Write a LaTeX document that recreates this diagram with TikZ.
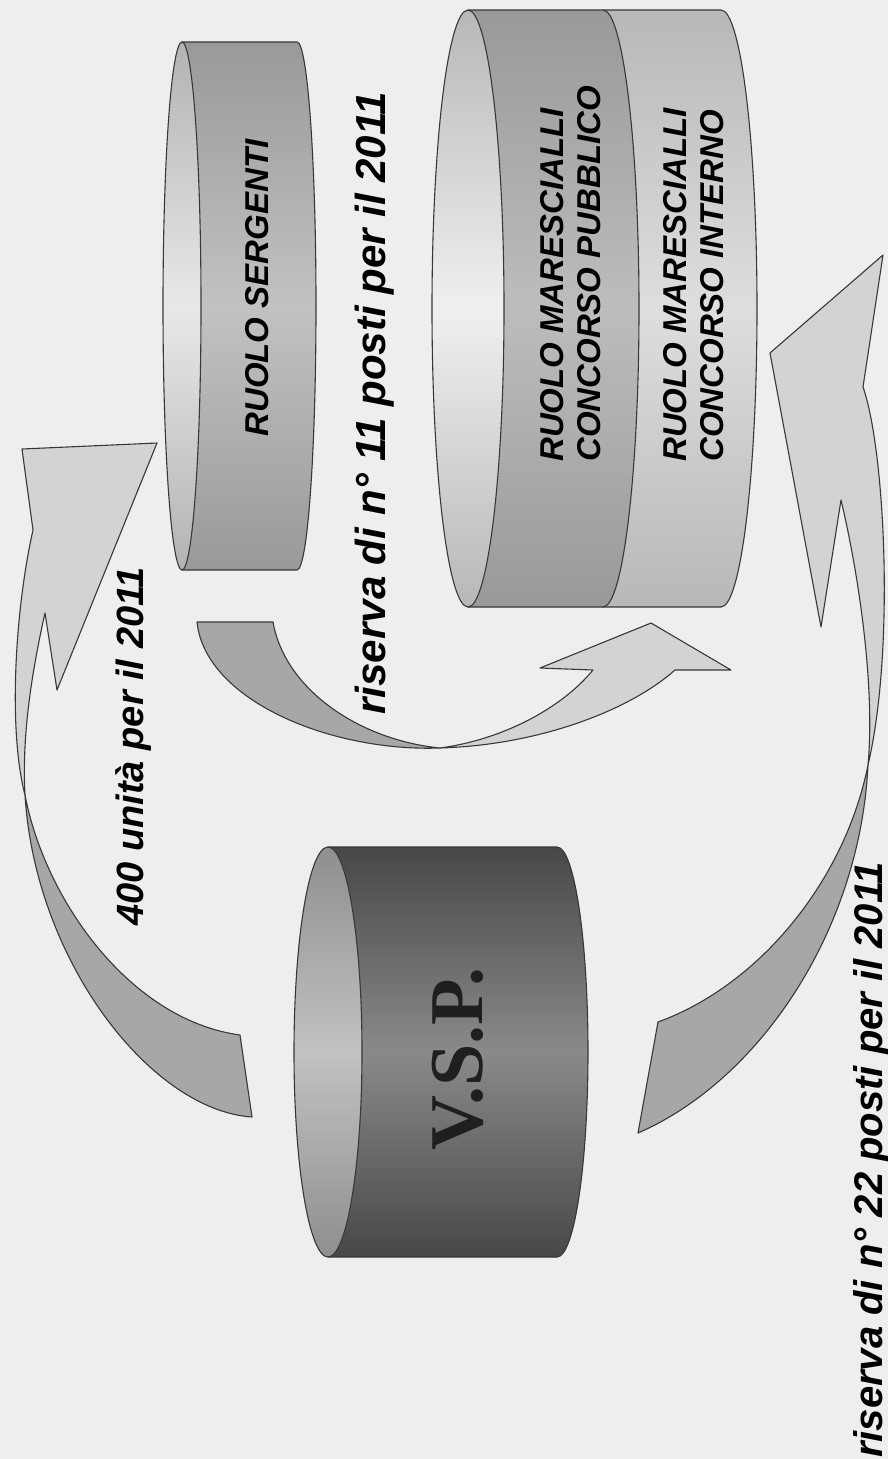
\documentclass[tikz,border=0pt]{standalone}
\usepackage{fontspec}
\setmainfont{Liberation Sans}
\newfontfamily\vspfont{Liberation Serif}
\definecolor{paper}{HTML}{EEEEEE}
\definecolor{inkline}{HTML}{383838}
\definecolor{ribbonfront}{HTML}{D3D3D3}
\definecolor{ribbonback}{HTML}{A7A7A7}
% body of a lying drum: #1 style, #2 x of front face, #3 x of back end, #4 top, #5 bottom, #6 x radius
\newcommand{\drum}[6]{
    \draw[#1] (#2, #4) -- (#3, #4)
        arc[start angle=-90, end angle=90, x radius=#6, y radius={(#5-#4)/2}]
        -- (#2, #5) -- cycle;
}
% front face of a lying drum: #1 style, #2 x, #3 y, #4 x radius, #5 y radius
\newcommand{\drumface}[5]{
    \draw[#1] (#2, #3) ellipse [x radius=#4, y radius=#5];
}
\tikzset{
    outline/.style={draw=inkline, line width=1.1pt, line join=round},
    sergbody/.style={outline, top color=black!40, bottom color=black!40, middle color=black!24},
    sergface/.style={outline, top color=black!30, bottom color=black!30, middle color=black!9},
    pubbody/.style={outline, top color=black!40, bottom color=black!40, middle color=black!26},
    intbody/.style={outline, top color=black!28, bottom color=black!28, middle color=black!13},
    marface/.style={outline, top color=black!28, bottom color=black!28, middle color=black!6},
    vspbody/.style={outline, top color=black!72, bottom color=black!72, middle color=black!46},
    vspface/.style={outline, top color=black!44, bottom color=black!44, middle color=black!24},
    arrowfront/.style={outline, fill=ribbonfront},
    arrowback/.style={outline, fill=ribbonback},
    drumlabel/.style={rotate=90, inner sep=0pt, align=left,
        font=\fontsize{33}{37}\selectfont\bfseries\itshape},
    flowlabel/.style={rotate=90, inner sep=0pt,
        font=\fontsize{40}{48}\selectfont\bfseries\itshape},
}
\begin{document}
\begin{tikzpicture}[x=1pt, y=1pt, yscale=-1]
    \fill[paper] (0, 0) rectangle (888, 1459);
    \useasboundingbox (0, 0) rectangle (888, 1459);

    % ruolo sergenti
    \drum{sergbody}{182}{297}{42}{570}{19}
    \drumface{sergface}{182}{306}{19}{264}

    % ruolo marescialli
    \drum{intbody}{603}{721}{10}{607}{36}
    \drum{pubbody}{468}{603}{10}{607}{36}
    \drumface{marface}{468}{308.5}{36}{298.5}

    % v.s.p.
    \drum{vspbody}{328}{557}{847}{1257}{31}
    \drumface{vspface}{328}{1052}{34}{205}

    % v.s.p. -> sergenti
    \coordinate (la1) at (22, 449);
    \coordinate (la2) at (157, 443);
    \coordinate (la3) at (57, 690);
    \coordinate (lo) at (33, 530);
    \coordinate (ln) at (45, 613);
    \coordinate (lc) at (25, 795);
    \coordinate (lt1) at (240, 1035);
    \coordinate (lt2) at (252, 1117);
    \draw[arrowback] (lc) .. controls (45, 900) and (130, 1020) .. (lt1)
        -- (lt2) .. controls (150, 1110) and (35, 960) .. (lc) -- cycle;
    \draw[arrowfront] (ln) .. controls (30, 680) and (22, 740) .. (lc)
        .. controls (8, 730) and (15, 610) .. (lo) -- (la1) -- (la2) -- (la3) -- cycle;

    % sergenti -> marescialli
    \coordinate (mt1) at (197, 622);
    \coordinate (mt2) at (273, 622);
    \coordinate (mc) at (440, 748);
    \coordinate (mn) at (593, 670);
    \coordinate (mo) at (675, 670);
    \coordinate (ma1) at (540, 668);
    \coordinate (ma2) at (651, 623);
    \coordinate (ma3) at (731, 670);
    \draw[arrowback] (mt1) -- (mt2) .. controls (285, 690) and (360, 740) .. (mc)
        .. controls (330, 752) and (205, 700) .. (mt1) -- cycle;
    \draw[arrowfront] (mc) .. controls (540, 745) and (630, 710) .. (mo)
        -- (ma3) -- (ma2) -- (ma1) -- (mn) .. controls (560, 710) and (500, 740) .. (mc) -- cycle;

    % v.s.p. -> marescialli interno
    \coordinate (rb1) at (883, 255);
    \coordinate (rtip) at (770, 353);
    \coordinate (rb2) at (821, 627);
    \coordinate (ro) at (863, 387);
    \coordinate (rn) at (841, 500);
    \coordinate (rc) at (868, 765);
    \coordinate (rt1) at (658, 1022);
    \coordinate (rt2) at (638, 1133);
    \draw[arrowfront] (rn) .. controls (860, 580) and (875, 690) .. (rc)
        .. controls (895, 650) and (885, 450) .. (ro) -- (rb1) -- (rtip) -- (rb2) -- cycle;
    \draw[arrowback] (rc) .. controls (845, 880) and (760, 985) .. (rt1)
        -- (rt2) .. controls (760, 1080) and (860, 930) .. (rc) -- cycle;

    % labels
    \node[drumlabel, anchor=base] (serg) at (268, 288) {RUOLO SERGENTI};
    \node[drumlabel, anchor=west] (pub) at (571, 462) {RUOLO MARESCIALLI\\CONCORSO PUBBLICO};
    \node[drumlabel, anchor=west] (int) at (694, 462) {RUOLO MARESCIALLI\\CONCORSO INTERNO};
    \node[rotate=90, inner sep=0pt, anchor=base, text=black!88,
        font=\vspfont\fontsize{76}{80}\selectfont\bfseries] (vsp) at (482, 1059) {V.S.P.};
    \node[flowlabel, anchor=base east, font=\fontsize{38}{46}\selectfont\bfseries\itshape]
        (unita) at (143, 567) {400 unità per il 2011};
    \node[flowlabel, anchor=base east, font=\fontsize{42}{50}\selectfont\bfseries\itshape]
        (ris11) at (385, 92) {riserva di n° 11 posti per il 2011};
    \node[flowlabel, anchor=base east] (ris22) at (882, 862) {riserva di n° 22 posti per il 2011};
\end{tikzpicture}
\end{document}
